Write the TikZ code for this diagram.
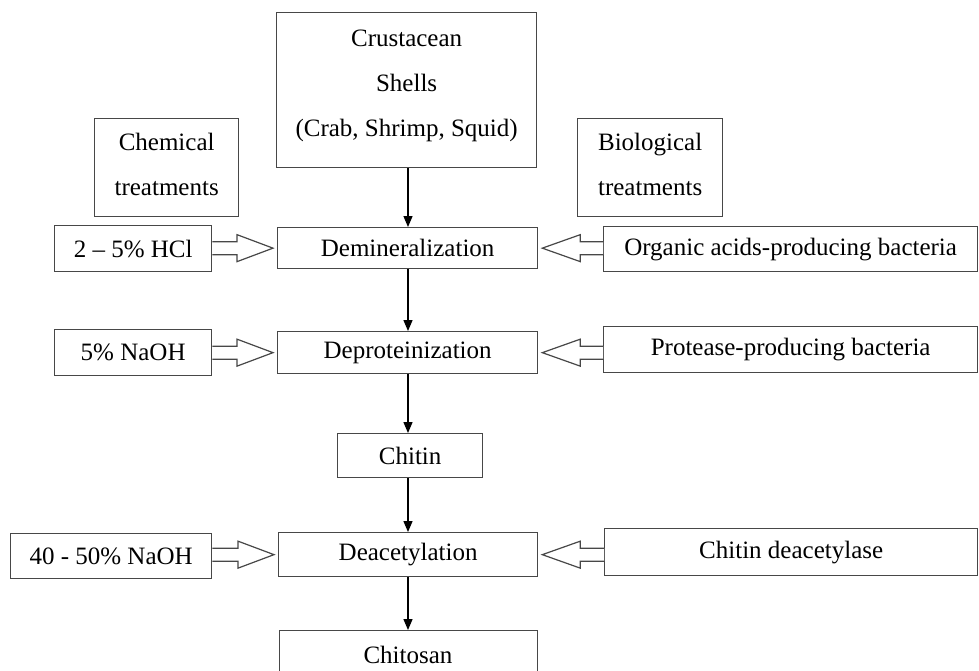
\documentclass[tikz,border=0pt]{standalone}
\usepackage{fontspec}
\setmainfont{Liberation Serif}
\usetikzlibrary{calc,arrows.meta}
\tikzset{
  box/.style={draw=black!72, line width=1.3pt, fill=white, inner sep=0pt, align=center,
    font=\fontsize{25}{45}\selectfont},
  hollow/.style={draw=black!72, line width=1.2pt, fill=white, line join=miter},
  down/.style={line width=1.3pt, -{Triangle[length=11pt,width=9pt]}}
}
% hollow arrow from box #1 rightwards to box #2
\newcommand\harrowR[2]{%
  \draw[hollow] ($(#1.east |- #2.west)+(0,-6.5)$) -- ($(#2.west)+(-40,-6.5)$)
    -- ($(#2.west)+(-40,-13.5)$) -- ($(#2.west)+(-4,0)$) -- ($(#2.west)+(-40,13.5)$)
    -- ($(#2.west)+(-40,6.5)$) -- ($(#1.east |- #2.west)+(0,6.5)$);}
% hollow arrow from box #1 leftwards to box #2
\newcommand\harrowL[2]{%
  \draw[hollow] ($(#1.west |- #2.east)+(0,-6.5)$) -- ($(#2.east)+(42,-6.5)$)
    -- ($(#2.east)+(42,-13.5)$) -- ($(#2.east)+(4,0)$) -- ($(#2.east)+(42,13.5)$)
    -- ($(#2.east)+(42,6.5)$) -- ($(#1.west |- #2.east)+(0,6.5)$);}
\newcommand\bx[6]{% name, x1, y1, x2, y2, text
  \node[box, anchor=north west, minimum width={(#4-#2)*1pt}, minimum height={(#5-#3)*1pt}]
    (#1) at (#2,#3) {#6};}
\newcommand\lift{\\[-31pt]\mbox{}}
\newcommand\liftb{\\[-38pt]\mbox{}}
\begin{document}
\begin{tikzpicture}[x=1pt,y=-1pt]
\clip (0,0) rectangle (979,670);
\fill[white] (0,0) rectangle (979,670);
\bx{shells}{276}{12}{536}{167}{Crustacean\\Shells\\(Crab, Shrimp, Squid)\lift}
\bx{chem}{94}{118}{238}{216}{Chemical\\treatments\liftb}
\bx{bio}{577}{118}{722}{216}{Biological\\treatments\liftb}
\bx{hcl}{54}{225}{211}{271}{2 – 5\% HCl}
\bx{dem}{277}{227}{537}{268}{Demineralization}
\bx{oab}{603}{226}{977}{271}{Organic acids-producing bacteria}
\bx{naoh}{54}{329}{211}{375}{5\% NaOH}
\bx{dep}{277}{331}{537}{373}{Deproteinization}
\bx{ppb}{603}{326}{977}{372}{Protease-producing bacteria}
\bx{chitin}{337}{433}{482}{477}{Chitin}
\bx{naohb}{10}{533}{211}{578}{40 - 50\% NaOH}
\bx{deac}{278}{532}{537}{576}{Deacetylation}
\bx{cda}{604}{528}{977}{575}{Chitin deacetylase}
\node[box, anchor=north west, minimum width=258pt, minimum height=50pt]
  (chitosan) at (279,630) {};
\node[font=\fontsize{25}{45}\selectfont, anchor=base] (chitosanlbl) at (408,663) {Chitosan};

\draw[down] (shells.south -| 408,0) -- (dem.north -| 408,0);
\draw[down] (dem.south -| 408,0) -- (dep.north -| 408,0);
\draw[down] (dep.south -| 408,0) -- (chitin.north -| 408,0);
\draw[down] (chitin.south -| 408,0) -- (deac.north -| 408,0);
\draw[down] (deac.south -| 408,0) -- (chitosan.north -| 408,0);

\harrowR{hcl}{dem}
\harrowR{naoh}{dep}
\harrowR{naohb}{deac}
\harrowL{oab}{dem}
\harrowL{ppb}{dep}
\harrowL{cda}{deac}
\end{tikzpicture}
\end{document}
